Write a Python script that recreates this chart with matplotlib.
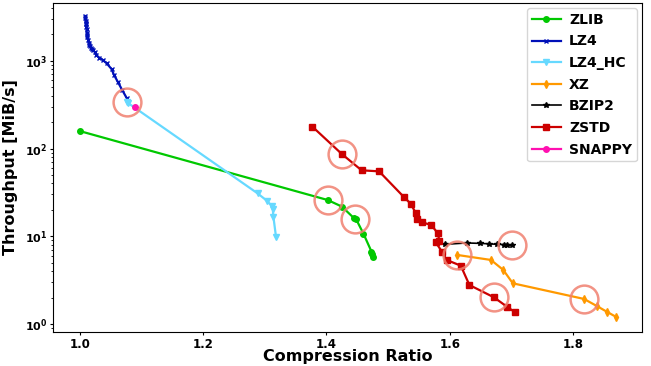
import matplotlib
matplotlib.use("Agg")
import matplotlib.pyplot as plt

# DATA (compression ratio, throughput MiB/s)
zlib_x = [1.0, 1.402, 1.425, 1.445, 1.448, 1.46, 1.473, 1.474, 1.475]
zlib_y = [158, 25.9, 21.8, 16.0, 15.7, 10.7, 6.7, 6.2, 5.8]

lz4_x = [1.008, 1.0085, 1.009, 1.0095, 1.0097, 1.010, 1.0105, 1.011, 1.0115, 1.012,
         1.013, 1.014, 1.0146, 1.016, 1.018, 1.020, 1.0216, 1.024, 1.026, 1.031,
         1.0368, 1.043, 1.051, 1.055, 1.061, 1.068, 1.0758]
lz4_y = [3240, 3050, 2850, 2700, 2600, 2450, 2300, 2080, 1950, 1850,
         1730, 1620, 1520, 1460, 1400, 1350, 1330, 1250, 1170, 1090,
         1025, 939, 808, 693, 580, 470, 375]

lz4hc_x = [1.0758, 1.078, 1.288, 1.303, 1.311, 1.3128, 1.3138, 1.318]
lz4hc_y = [343, 330, 30.9, 25.5, 22.2, 20.3, 16.7, 9.9]

xz_x = [1.6126, 1.667, 1.687, 1.7024, 1.818, 1.839, 1.855, 1.8696]
xz_y = [6.12, 5.37, 4.13, 2.91, 1.93, 1.6, 1.38, 1.21]

bzip2_x = [1.5925, 1.6277, 1.649, 1.6645, 1.676, 1.688, 1.6937, 1.7008]
bzip2_y = [8.1, 8.39, 8.3, 8.2, 8.1, 8.05, 8.0, 7.96]

zstd_x = [1.377, 1.4248, 1.457, 1.4854, 1.5255, 1.537, 1.545, 1.5466, 1.5547, 1.57,
          1.5807, 1.5833, 1.5774, 1.588, 1.595, 1.618, 1.632, 1.672, 1.6926, 1.706]
zstd_y = [178, 86.8, 56.5, 55, 28.1, 23.4, 18.3, 15.6, 14.4, 13.5,
          10.8, 8.9, 8.54, 6.57, 5.37, 4.62, 2.78, 2.01, 1.58, 1.36]

snappy_x = [1.0893]
snappy_y = [296]

# highlighted (circled) points
circle_x = [1.0758, 1.4248, 1.402, 1.447, 1.7008, 1.6126, 1.672, 1.818]
circle_y = [343, 86.8, 25.9, 15.8, 7.96, 6.12, 2.01, 1.93]

fig = plt.figure(figsize=(6.51, 3.66), dpi=100)
ax = fig.add_axes([0.0814, 0.0929, 0.9046, 0.8989])

ax.plot(zlib_x, zlib_y, color="#00c800", marker="o", markersize=4, linewidth=1.6, label="ZLIB")
ax.plot(lz4_x, lz4_y, color="#0010b8", marker="x", markersize=3, linewidth=1.6, label="LZ4")
ax.plot(lz4hc_x, lz4hc_y, color="#66d9ff", marker="v", markersize=4, linewidth=1.6, label="LZ4_HC")
ax.plot(xz_x, xz_y, color="#ff9900", marker="d", markersize=4, linewidth=1.6, label="XZ")
ax.plot(bzip2_x, bzip2_y, color="black", marker="*", markersize=4, linewidth=1.2, label="BZIP2")
ax.plot(zstd_x, zstd_y, color="#cc0000", marker="s", markersize=4, linewidth=1.6, label="ZSTD")
ax.plot(snappy_x, snappy_y, color="#ff10b0", marker="o", markersize=4, linewidth=1.6, label="SNAPPY")

ax.plot(circle_x, circle_y, linestyle="none", marker="o", markersize=20, fillstyle="none",
        markeredgecolor="#f08070", markeredgewidth=1.8, alpha=0.85)

ax.set_yscale("log")
ax.set_xlim(0.956, 1.912)
ax.set_ylim(0.81, 4570)
ax.set_xticks([1.0, 1.2, 1.4, 1.6, 1.8])
ax.set_xticklabels(["1.0", "1.2", "1.4", "1.6", "1.8"])
ax.tick_params(which="major", length=2.5, pad=1.5)
ax.tick_params(which="minor", length=1.5)
for lbl in ax.get_xticklabels():
    lbl.set_fontweight("bold")
    lbl.set_fontsize(8.5)
for lbl in ax.get_yticklabels():
    lbl.set_fontweight("bold")
    lbl.set_fontsize(8)

ax.set_xlabel("Compression Ratio", fontsize=11.5, fontweight="bold", labelpad=-1)
ax.set_ylabel("Throughput [MiB/s]", fontsize=11.5, fontweight="bold", labelpad=5)

ax.legend(loc="upper right", prop={"weight": "bold", "size": 10}, handlelength=2.1,
          borderaxespad=0.35, labelspacing=0.55, handletextpad=0.6, borderpad=0.35)

fig.savefig("out.png", dpi=100)
